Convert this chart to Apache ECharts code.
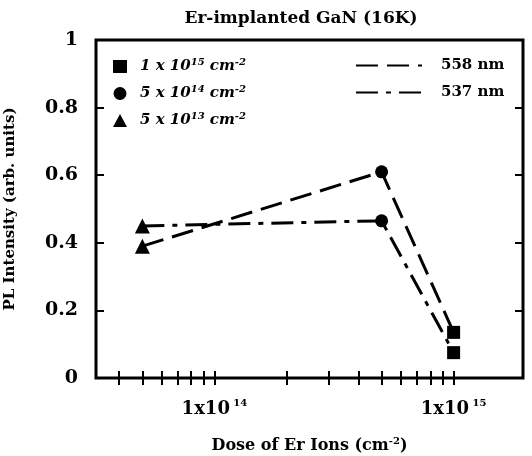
<!DOCTYPE html>
<html>
<head>
<meta charset="utf-8">
<script src="https://cdn.jsdelivr.net/npm/echarts@6/dist/echarts.min.js"></script>
<style>
html,body{margin:0;padding:0;background:#fff;}
#chart{width:532px;height:456px;}
</style>
</head>
<body>
<div id="chart"></div>
<script>
// 数据：剂量与PL强度
var doses = [5e13, 5e14, 1e15];
var pl558 = [0.39, 0.61, 0.135];
var pl537 = [0.45, 0.465, 0.075];
var doseNames = ['5 x 10^13 cm^-2', '5 x 10^14 cm^-2', '1 x 10^15 cm^-2'];
var doseSymbols = ['triangle', 'circle', 'rect'];
var lineNames = ['558 nm', '537 nm'];
var xLabelTicks = [1e14, 1e15];
var xTicks = [4e13, 5e13, 6e13, 7e13, 8e13, 9e13, 1e14, 2e14, 3e14, 4e14, 5e14, 6e14, 7e14, 8e14, 9e14, 1e15];

var FONT = '"DejaVu Serif", "Liberation Serif", serif';

/****
 * 把 10^15 这样的写法转换成富文本
 */
function supText(str){
	return '{t|' + str.replace(/\^(\S+)/g, '}{s|$1}{t|') + '}';
}

var rich = {
	t: {fontFamily: FONT, fontWeight: 'bold', fontStyle: 'italic', fontSize: 15, color: '#000'},
	s: {fontFamily: FONT, fontWeight: 'bold', fontStyle: 'italic', fontSize: 10, color: '#000', padding: [0, 0, 9, 0]}
};

var chart = echarts.init(document.getElementById('chart'));

var series = [];
series.push({
	name: lineNames[0], type: 'line', symbol: 'none',
	data: doses.map(function(d, i){ return [d, pl558[i]]; }),
	itemStyle: {color: '#000'},
	lineStyle: {color: '#000', width: 3, type: [22, 9]}, z: 2
});
series.push({
	name: lineNames[1], type: 'line', symbol: 'none',
	data: doses.map(function(d, i){ return [d, pl537[i]]; }),
	itemStyle: {color: '#000'},
	lineStyle: {color: '#000', width: 3, type: [22, 8, 5, 8]}, z: 2
});
// 每个剂量一个散点系列（图例使用）
for (var i = doses.length - 1; i >= 0; i--) {
	series.push({
		name: doseNames[i], type: 'scatter', symbol: doseSymbols[i],
		symbolSize: doseSymbols[i] == 'triangle' ? 15 : 13,
		itemStyle: {color: '#000', opacity: 1}, z: 3,
		data: [[doses[i], pl558[i]], [doses[i], pl537[i]]]
	});
}

function xAxisOf(pos, labels){
	return {
		type: 'log', position: pos, min: 3.2e13, max: 1.95e15, logBase: 10,
		axisLine: {show: false},
		splitLine: {show: false},
		axisTick: {show: true, inside: true, length: 7, customValues: xTicks, lineStyle: {color: '#000', width: 2}},
		axisLabel: labels ? {
			show: true, customValues: xLabelTicks, margin: 20,
			formatter: function(v){ return '{b|1x10} {p|' + Math.round(Math.log10(v)) + '}'; },
			rich: {
				b: {fontFamily: FONT, fontWeight: 'bold', fontSize: 18, color: '#000'},
				p: {fontFamily: FONT, fontWeight: 'bold', fontSize: 10, color: '#000', padding: [0, 0, 12, 0]}
			}
		} : {show: false},
		name: labels ? '{n|Dose of Er Ions (cm}{s|-2}{n|)}' : '',
		nameLocation: 'middle', nameGap: 58,
		nameTextStyle: {
			rich: {
				n: {fontFamily: FONT, fontWeight: 'bold', fontSize: 16, color: '#000'},
				s: {fontFamily: FONT, fontWeight: 'bold', fontSize: 10, color: '#000', padding: [0, 0, 10, 0]}
			}
		}
	};
}

function yAxisOf(pos, labels){
	return {
		type: 'value', position: pos, min: 0, max: 1, interval: 0.2,
		axisLine: {show: false},
		splitLine: {show: false},
		axisTick: {show: true, inside: true, length: 8, lineStyle: {color: '#000', width: 2}},
		axisLabel: {show: labels, margin: 18, fontFamily: FONT, fontWeight: 'bold', fontSize: 19, color: '#000'},
		name: labels ? 'PL Intensity (arb. units)' : '',
		nameLocation: 'middle', nameGap: 78,
		nameTextStyle: {fontFamily: FONT, fontWeight: 'bold', fontSize: 15, color: '#000'}
	};
}

var option = {
	backgroundColor: '#fff',
	animation: false,
	title: {
		text: 'Er-implanted GaN (16K)', left: 296, top: 5, textAlign: 'center',
		textStyle: {fontFamily: FONT, fontWeight: 'bold', fontSize: 17, color: '#000'}
	},
	grid: {left: 96, right: 9, top: 40, bottom: 78, outerBoundsMode: 'none', show: true, borderColor: '#000', borderWidth: 3, backgroundColor: 'transparent'},
	legend: [{
		data: [doseNames[2], doseNames[1], doseNames[0]],
		orient: 'vertical', left: 108, top: 52, itemGap: 10,
		itemWidth: 14, itemHeight: 13,
		formatter: function(name){ return supText(name); },
		textStyle: {rich: rich, padding: [0, 0, 0, 8]},
		selectedMode: false
	}, {
		data: lineNames,
		orient: 'vertical', left: 350, top: 53, itemGap: 12,
		itemWidth: 66, itemHeight: 14,
		itemStyle: {opacity: 0},
		textStyle: {fontFamily: FONT, fontWeight: 'bold', fontSize: 15, color: '#000', padding: [0, 0, 0, 14]},
		selectedMode: false
	}],
	xAxis: [xAxisOf('bottom', true), xAxisOf('top', false)],
	yAxis: [yAxisOf('left', true), yAxisOf('right', false)],
	series: series
};
chart.setOption(option);
</script>
</body>
</html>
